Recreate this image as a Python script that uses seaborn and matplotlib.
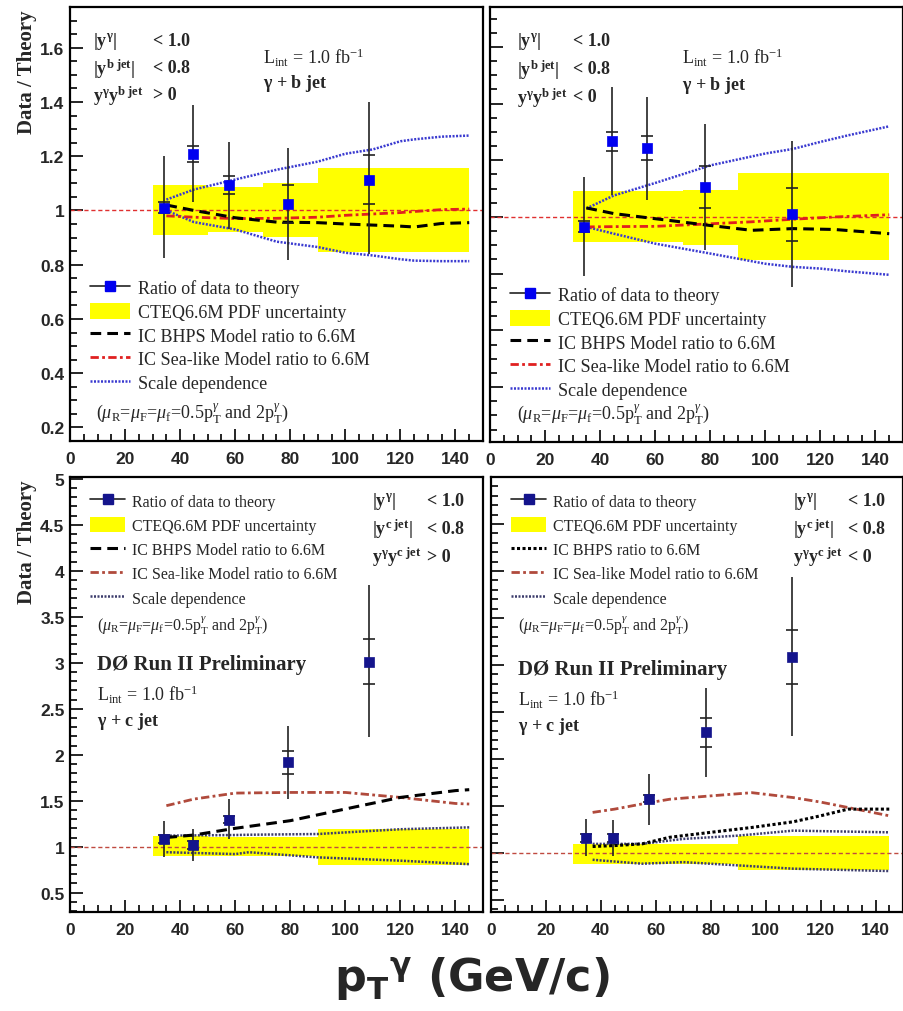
import numpy as np
import pandas as pd
import seaborn as sns
import matplotlib
matplotlib.use("Agg")
import matplotlib.pyplot as plt
from matplotlib.lines import Line2D
from matplotlib.patches import Patch
from matplotlib.ticker import MultipleLocator

# ---------------- data ----------------
# gamma + b jet, y*y > 0
tl_x = [34.2, 44.5, 57.9, 79.0, 108.5]
tl_y = [1.01, 1.209, 1.093, 1.025, 1.114]
tl_tot_hi = [1.20, 1.39, 1.253, 1.231, 1.40]
tl_tot_lo = [0.826, 1.03, 0.93, 0.817, 0.84]
tl_stat = [0.02, 0.03, 0.034, 0.07, 0.09]
tl_band_edges = [30, 50, 70, 90, 145]
tl_band_hi = [1.092, 1.086, 1.10, 1.155]
tl_band_lo = [0.91, 0.92, 0.903, 0.845]
tl_curve_x = [35, 45, 60, 75, 90, 100, 110, 120, 125, 135, 145]
tl_bhps = [1.02, 1.0, 0.973, 0.957, 0.955, 0.95, 0.946, 0.942, 0.939, 0.952, 0.955]
tl_sea = [0.98, 0.975, 0.97, 0.971, 0.975, 0.982, 0.987, 0.992, 0.996, 1.003, 1.005]
tl_sc_hi = [1.04, 1.077, 1.114, 1.15, 1.18, 1.209, 1.225, 1.255, 1.262, 1.272, 1.276]
tl_sc_lo = [1.0, 0.957, 0.93, 0.885, 0.865, 0.844, 0.834, 0.82, 0.815, 0.813, 0.813]

# gamma + b jet, y*y < 0
tr_x = [34.1, 44.3, 57.2, 78.2, 109.7]
tr_y = [0.966, 1.267, 1.244, 1.106, 1.009]
tr_tot_hi = [1.141, 1.459, 1.424, 1.327, 1.267]
tr_tot_lo = [0.792, 1.076, 1.061, 0.882, 0.753]
tr_stat = [0.02, 0.033, 0.042, 0.075, 0.092]
tr_band_edges = [30, 50, 70, 90, 145]
tr_band_hi = [1.09, 1.09, 1.096, 1.155]
tr_band_lo = [0.912, 0.912, 0.90, 0.849]
tr_curve_x = [35, 45, 60, 80, 95, 110, 125, 145]
tr_bhps = [1.032, 1.012, 0.994, 0.97, 0.953, 0.959, 0.956, 0.941]
tr_sea = [0.965, 0.966, 0.967, 0.976, 0.983, 0.992, 1.0, 1.008]
tr_sc_x = [35, 45, 60, 80, 100, 110, 120, 130, 145]
tr_sc_hi = [1.03, 1.076, 1.12, 1.182, 1.224, 1.24, 1.265, 1.288, 1.32]
tr_sc_lo = [0.965, 0.941, 0.906, 0.871, 0.835, 0.824, 0.818, 0.808, 0.796]

# gamma + c jet, y*y > 0
bl_x = [34.2, 44.5, 57.9, 79.0, 108.5]
bl_y = [1.083, 1.018, 1.293, 1.917, 3.011]
bl_tot_hi = [1.275, 1.19, 1.518, 2.308, 3.844]
bl_tot_lo = [0.884, 0.848, 1.083, 1.518, 2.188]
bl_stat = [0.04, 0.04, 0.04, 0.123, 0.245]
bl_band_edges = [30, 50, 70, 90, 145]
bl_band_hi = [1.112, 1.105, 1.11, 1.19]
bl_band_lo = [0.895, 0.9, 0.895, 0.80]
bl_curve_x = [35, 45, 60, 80, 100, 120, 140, 145]
bl_bhps = [1.10, 1.127, 1.2, 1.283, 1.41, 1.536, 1.61, 1.62]
bl_sea = [1.446, 1.518, 1.583, 1.59, 1.59, 1.536, 1.47, 1.464]
bl_sc_x = [35, 60, 65, 90, 120, 145]
bl_sc_hi = [1.12, 1.127, 1.13, 1.138, 1.19, 1.21]
bl_sc_lo = [0.94, 0.92, 0.94, 0.884, 0.848, 0.81]

# gamma + c jet, y*y < 0
br_x = [34.5, 44.4, 57.4, 78.2, 109.7]
br_y = [1.158, 1.158, 1.577, 2.282, 3.085]
br_tot_hi = [1.359, 1.349, 1.842, 2.757, 3.94]
br_tot_lo = [0.961, 0.961, 1.299, 1.806, 2.239]
br_stat = [0.04, 0.04, 0.04, 0.153, 0.285]
br_band_edges = [30, 50, 70, 90, 145]
br_band_hi = [1.095, 1.095, 1.095, 1.183]
br_band_lo = [0.884, 0.884, 0.884, 0.813]
br_curve_x = [37, 45, 55, 65, 80, 95, 110, 120, 130, 145]
br_bhps = [1.067, 1.077, 1.095, 1.165, 1.218, 1.27, 1.33, 1.394, 1.465, 1.465]
br_sea = [1.43, 1.465, 1.52, 1.57, 1.606, 1.64, 1.588, 1.54, 1.482, 1.394]
br_sc_x = [37, 55, 70, 90, 110, 145]
br_sc_hi = [1.095, 1.095, 1.148, 1.183, 1.236, 1.218]
br_sc_lo = [0.926, 0.884, 0.901, 0.866, 0.831, 0.806]

x_ticks = [0, 20, 40, 60, 80, 100, 120, 140]
legend_labels_top = ["Ratio of data to theory", "CTEQ6.6M PDF uncertainty",
                     "IC BHPS Model ratio to 6.6M", "IC Sea-like Model ratio to 6.6M",
                     "Scale dependence"]
legend_labels_bl = legend_labels_top
legend_labels_br = ["Ratio of data to theory", "CTEQ6.6M PDF uncertainty",
                    "IC BHPS ratio to 6.6M", "IC Sea-like Model ratio to 6.6M",
                    "Scale dependence"]

# ---------------- style ----------------
sns.set_style("ticks")
plt.rcParams['font.family'] = ['Liberation Serif', 'DejaVu Serif']
plt.rcParams['mathtext.fontset'] = 'custom'
plt.rcParams['mathtext.rm'] = 'Liberation Serif'
plt.rcParams['mathtext.it'] = 'Liberation Serif:italic'
plt.rcParams['mathtext.bf'] = 'Liberation Serif:bold'
plt.rcParams['mathtext.sf'] = 'DejaVu Sans:bold'

W, H = 904, 1012
fig = plt.figure(figsize=(W / 100, H / 100), dpi=100)


def box(l, t, r, b):
    return [l / W, 1 - b / H, (r - l) / W, (b - t) / H]


def fx(px):
    return px / W


def fy(py):
    return 1 - py / H


ax_tl = fig.add_axes(box(70, 8, 483, 442))
ax_tr = fig.add_axes(box(490, 8, 903, 443))
ax_bl = fig.add_axes(box(70, 478, 483, 913))
ax_br = fig.add_axes(box(491, 478, 903, 913))

panels = [
    dict(ax=ax_tl, ylim=(0.15, 1.75), major=0.2, minor=0.05, ylabels=True,
         x=tl_x, y=tl_y, hi=tl_tot_hi, lo=tl_tot_lo, stat=tl_stat,
         be=tl_band_edges, bh=tl_band_hi, bl=tl_band_lo,
         cx=tl_curve_x, bhps=tl_bhps, cxs=tl_curve_x, sea=tl_sea,
         scx=tl_curve_x, schi=tl_sc_hi, sclo=tl_sc_lo, top=True, br=False, legy=280),
    dict(ax=ax_tr, ylim=(0.206, 1.741), major=0.2, minor=0.05, ylabels=False,
         x=tr_x, y=tr_y, hi=tr_tot_hi, lo=tr_tot_lo, stat=tr_stat,
         be=tr_band_edges, bh=tr_band_hi, bl=tr_band_lo,
         cx=tr_curve_x, bhps=tr_bhps, cxs=tr_curve_x, sea=tr_sea,
         scx=tr_sc_x, schi=tr_sc_hi, sclo=tr_sc_lo, top=True, br=False, legy=287),
    dict(ax=ax_bl, ylim=(0.29, 5.02), major=0.5, minor=0.1, ylabels=True,
         x=bl_x, y=bl_y, hi=bl_tot_hi, lo=bl_tot_lo, stat=bl_stat,
         be=bl_band_edges, bh=bl_band_hi, bl=bl_band_lo,
         cx=bl_curve_x, bhps=bl_bhps, cxs=bl_curve_x, sea=bl_sea,
         scx=bl_sc_x, schi=bl_sc_hi, sclo=bl_sc_lo, top=False, br=False, legy=494),
    dict(ax=ax_br, ylim=(0.37, 5.0), major=0.5, minor=0.1, ylabels=False,
         x=br_x, y=br_y, hi=br_tot_hi, lo=br_tot_lo, stat=br_stat,
         be=br_band_edges, bh=br_band_hi, bl=br_band_lo,
         cx=br_curve_x, bhps=br_bhps, cxs=br_curve_x, sea=br_sea,
         scx=br_sc_x, schi=br_sc_hi, sclo=br_sc_lo, top=False, br=True, legy=494),
]

tick_font = dict(family='Liberation Sans', weight='bold', size=12.5)

for p in panels:
    ax = p['ax']
    top = p['top']
    marker_col = '#0000f0' if top else '#14148c'
    sea_col = '#e02020' if top else '#b04a3c'
    sc_col = '#3a3ad0' if top else '#3c3c6c'
    ref_col = '#e03030' if top else '#c04a40'

    # yellow PDF band (step)
    be = np.array(p['be'], float)
    bh = np.array(p['bh'] + [p['bh'][-1]], float)
    bl = np.array(p['bl'] + [p['bl'][-1]], float)
    ax.fill_between(be, bl, bh, step='post', color='#ffff00', lw=0, zorder=1)

    # reference line at 1
    ax.axhline(1.0, color=ref_col, lw=1.0, dashes=(3, 2), zorder=2)

    # theory curves
    sns.lineplot(x=p['scx'], y=p['schi'], ax=ax, color=sc_col, lw=1.8,
                 linestyle=(0, (0.8, 0.6)), zorder=3)
    sns.lineplot(x=p['scx'], y=p['sclo'], ax=ax, color=sc_col, lw=1.8,
                 linestyle=(0, (0.8, 0.6)), zorder=3)
    sns.lineplot(x=p['cxs'], y=p['sea'], ax=ax, color=sea_col, lw=2.0,
                 linestyle=(0, (3, 1.2, 1, 1.2)), zorder=3)
    bhps_ls = (0, (1, 0.8)) if p['br'] else (0, (3.5, 2))
    sns.lineplot(x=p['cx'], y=p['bhps'], ax=ax, color='black', lw=2.2,
                 linestyle=bhps_ls, zorder=3)

    # error bars
    x = np.array(p['x'])
    y = np.array(p['y'])
    yerr = [y - np.array(p['lo']), np.array(p['hi']) - y]
    ax.errorbar(x, y, yerr=yerr, fmt='none', ecolor='#222222', elinewidth=1.2,
                capsize=0, zorder=4)
    ax.errorbar(x, y, yerr=p['stat'], fmt='none', ecolor='#222222', elinewidth=0,
                capsize=4, capthick=1.2, zorder=4)
    df = pd.DataFrame({'x': x, 'y': y})
    sns.scatterplot(data=df, x='x', y='y', ax=ax, marker='s', s=48,
                    color=marker_col, edgecolor=marker_col, linewidth=0.5, zorder=5)

    # axes styling
    ax.set_xlim(0, 150)
    ax.set_ylim(*p['ylim'])
    ax.set_xlabel('')
    ax.set_ylabel('')
    ax.xaxis.set_major_locator(MultipleLocator(20))
    ax.xaxis.set_minor_locator(MultipleLocator(5))
    ax.yaxis.set_major_locator(MultipleLocator(p['major']))
    ax.yaxis.set_minor_locator(MultipleLocator(p['minor']))
    ax.tick_params(which='both', direction='in', top=False, right=False,
                   color='black', width=1.2)
    ax.tick_params(which='major', length=9)
    ax.tick_params(which='minor', length=5)
    ax.tick_params(axis='x', which='major', pad=7)
    ax.tick_params(axis='y', which='major', pad=4)
    for s in ax.spines.values():
        s.set_linewidth(1.6)
        s.set_color('black')
    ax.set_xticks(x_ticks)
    ax.set_xticklabels([str(t) for t in x_ticks], fontdict=tick_font)
    if p['ylabels']:
        ticks = [t for t in ax.get_yticks() if p['ylim'][0] <= t <= p['ylim'][1] + 1e-9]
        ax.set_yticks(ticks)
        ax.set_yticklabels([('%g' % t) for t in ticks], fontdict=tick_font)
    else:
        ax.tick_params(axis='y', labelleft=False)

    # legend
    handles = [
        Line2D([0], [0], color='#222222', lw=1.2, marker='s', ms=7,
               mfc=marker_col, mec=marker_col),
        Patch(facecolor='#ffff00', edgecolor='none'),
        Line2D([0], [0], color='black', lw=2.2, linestyle=bhps_ls),
        Line2D([0], [0], color=sea_col, lw=2.0, linestyle=(0, (3, 1.2, 1, 1.2))),
        Line2D([0], [0], color=sc_col, lw=1.8, linestyle=(0, (0.8, 0.6))),
    ]
    if top:
        labels = legend_labels_top
        fs = 13
        lsp = 0.3
    else:
        labels = legend_labels_br if p['br'] else legend_labels_bl
        fs = 11.5
        lsp = 0.48
    pos = ax.get_position()
    lx = pos.x0 + fx(20)
    ly = fy(p['legy'])
    ax.legend(handles, labels, loc='upper left', bbox_to_anchor=(lx, ly),
              bbox_transform=fig.transFigure, frameon=False,
              prop=dict(family='Liberation Serif', size=fs),
              handlelength=2.2, handleheight=1.0, handletextpad=0.45,
              labelspacing=lsp, borderpad=0, borderaxespad=0)

# y labels
for yy in (10, 480):
    fig.text(fx(27), fy(yy), 'Data / Theory', rotation=90, ha='center', va='top',
             family='Liberation Serif', weight='bold', size=15)

mu_txt = r'($\mu_{\mathrm{R}}$=$\mu_{\mathrm{F}}$=$\mu_{\mathrm{f}}$=0.5p$_{\mathrm{T}}^{\gamma}$ and 2p$_{\mathrm{T}}^{\gamma}$)'
lint_txt = r'L$_{\mathrm{int}}$ = 1.0 fb$^{\mathrm{-1}}$'


def cuts(x0, x1, ys, jet, sign, fs=13):
    labs = [r'$\mathbf{|y^{\gamma}|}$', r'$\mathbf{|y^{%s\ jet}|}$' % jet,
            r'$\mathbf{y^{\gamma}y^{%s\ jet}}$' % jet]
    vals = ['< 1.0', '< 0.8', sign]
    for lab, val, yy in zip(labs, vals, ys):
        fig.text(fx(x0), fy(yy), lab, ha='left', va='center', size=fs,
                 family='Liberation Serif', weight='bold')
        fig.text(fx(x1), fy(yy), val, ha='left', va='center', size=fs,
                 family='Liberation Serif', weight='bold')


cuts(93, 153, [42, 69, 96], 'b', '> 0')
cuts(517, 573, [42, 70, 98], 'b', '< 0')
cuts(372, 427, [502, 529, 557], 'c', '> 0')
cuts(793, 848, [502, 529, 557], 'c', '< 0')

fig.text(fx(263), fy(58), lint_txt, ha='left', va='center', size=13, family='Liberation Serif')
fig.text(fx(263), fy(83), r'$\mathbf{\gamma}$ + b jet', ha='left', va='center', size=13,
         family='Liberation Serif', weight='bold')
fig.text(fx(682), fy(58), lint_txt, ha='left', va='center', size=13, family='Liberation Serif')
fig.text(fx(682), fy(85), r'$\mathbf{\gamma}$ + b jet', ha='left', va='center', size=13,
         family='Liberation Serif', weight='bold')

fig.text(fx(96), fy(413), mu_txt, ha='left', va='center', size=13, family='Liberation Serif')
fig.text(fx(517), fy(414), mu_txt, ha='left', va='center', size=13, family='Liberation Serif')
fig.text(fx(97), fy(626), mu_txt, ha='left', va='center', size=11.5, family='Liberation Serif')
fig.text(fx(518), fy(626), mu_txt, ha='left', va='center', size=11.5, family='Liberation Serif')

for x0, y0 in ((97, 665), (518, 670)):
    fig.text(fx(x0), fy(y0), 'DØ Run II Preliminary', ha='left', va='center', size=15,
             family='Liberation Serif', weight='bold')
    fig.text(fx(x0), fy(y0 + 30), lint_txt, ha='left', va='center', size=13,
             family='Liberation Serif')
    fig.text(fx(x0), fy(y0 + 57), r'$\mathbf{\gamma}$ + c jet', ha='left', va='center', size=13,
             family='Liberation Serif', weight='bold')

# common x label
fig.text(fx(472), fy(980), r'$\mathsf{p_{T}{}^{\gamma}}$ (GeV/c)', ha='center', va='center',
         size=32, family='DejaVu Sans', weight='bold')

fig.savefig('out.png', dpi=100)
